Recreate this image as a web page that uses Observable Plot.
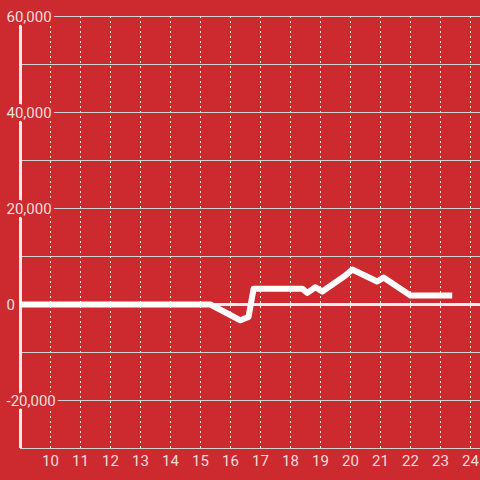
<!DOCTYPE html>
<html>
<head>
<meta charset="utf-8">
<script src="https://cdn.jsdelivr.net/npm/d3@7"></script>
<script src="https://cdn.jsdelivr.net/npm/@observablehq/plot@0.6"></script>
<style>
  html, body { margin: 0; padding: 0; background: #cd2a2f; }
  #chart svg { display: block; }
</style>
</head>
<body>
<div id="chart"></div>
<script>
// Series (x = hour, y = value)
const hours  = [9, 15.33, 16.33, 16.6, 16.77, 18.39, 18.56, 18.83, 19.06, 19.83, 20.06, 20.89, 21.1, 22.0, 23.39];
const values = [0, 0, -3300, -2600, 3300, 3300, 2420, 3600, 2700, 6040, 7300, 4790, 5600, 1875, 1875];

// Axes
const xTicks = [10, 11, 12, 13, 14, 15, 16, 17, 18, 19, 20, 21, 22, 23, 24];
const xTickLabels = ["10", "11", "12", "13", "14", "15", "16", "17", "18", "19", "20", "21", "22", "23", "24"];
const yGrid = [-30000, -20000, -10000, 0, 10000, 20000, 30000, 40000, 50000, 60000];
const yTicks = [60000, 40000, 20000, 0, -20000];
const yTickLabels = ["60,000", "40,000", "20,000", "0", "-20,000"];

const bg = "#cd2a2f";
const txt = "#f3dcdc";
const series = hours.map((h, i) => ({x: h, y: values[i]}));
const yLab = yTicks.map((v, i) => ({y: v, label: yTickLabels[i]}));
const xLab = xTicks.map((v, i) => ({x: v, label: xTickLabels[i]}));

const chart = Plot.plot({
  width: 480,
  height: 480,
  marginLeft: 20,
  marginRight: 0,
  marginTop: 16,
  marginBottom: 32,
  style: {background: bg, fontFamily: "Roboto, sans-serif", fontSize: "15px", overflow: "visible"},
  x: {domain: [9, 24 + 1/3], axis: null},
  y: {domain: [-30000, 60000], axis: null},
  marks: [
    Plot.ruleY(yGrid, {stroke: "#d2d2d2", strokeWidth: 1}),
    Plot.ruleX(xTicks, {stroke: "#e6e6e6", strokeWidth: 1, strokeDasharray: "2,3"}),
    Plot.ruleY([0], {stroke: "#eeeeee", strokeWidth: 3}),
    Plot.ruleY([-30000], {stroke: "#d2d2d2", strokeWidth: 1}),
    Plot.ruleX([9], {stroke: "#eeeeee", strokeWidth: 3}),
    Plot.line(series, {x: "x", y: "y", stroke: "white", strokeWidth: 6, strokeLinejoin: "round", strokeLinecap: "butt"}),
    Plot.text(yLab, {x: () => 9, y: "y", text: "label", textAnchor: "start", dx: -14, dy: 1,
      fill: txt, stroke: bg, strokeWidth: 6, fontSize: 15}),
    Plot.text(xLab, {x: "x", y: () => -30000, text: "label", dy: 13, fill: txt, fontSize: 15})
  ]
});
document.getElementById("chart").appendChild(chart);
</script>
</body>
</html>
